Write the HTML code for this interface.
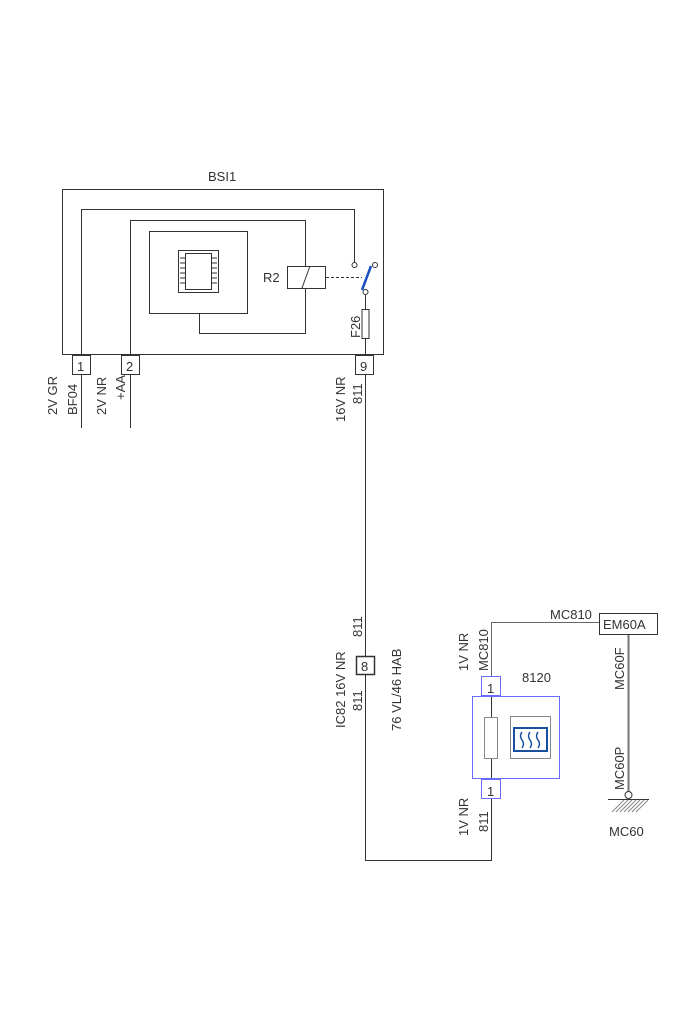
<!DOCTYPE html>
<html><head><meta charset="utf-8"><style>
html,body{margin:0;padding:0;background:#fff;}
svg{display:block;}
text{font-family:"Liberation Sans",sans-serif;fill:#333;}
</style></head><body>
<svg width="700" height="1020" viewBox="0 0 700 1020" xmlns="http://www.w3.org/2000/svg">
<g fill="none" stroke="#333" stroke-width="1">
<rect x="62.5" y="189.5" width="321" height="165"/>
<polyline points="81.5,355 81.5,209.5 354.5,209.5 354.5,262"/>
<polyline points="130.5,355 130.5,220.5 305.5,220.5 305.5,266"/>
<polyline points="305.5,288 305.5,333.5 199.5,333.5 199.5,313"/>
<rect x="149.5" y="231.5" width="98" height="82"/>
<rect x="178.5" y="250.5" width="40" height="42"/>
<rect x="185.5" y="253.5" width="26" height="36"/>
<path d="M180 258h5M180 263h5M180 268h5M180 273h5M180 278h5M180 283h5M212 258h5M212 263h5M212 268h5M212 273h5M212 278h5M212 283h5"/>
<rect x="287.5" y="266.5" width="38" height="22"/>
<line x1="302" y1="288" x2="310" y2="266"/>
<line x1="326" y1="277.5" x2="362" y2="277.5" stroke-dasharray="3,2"/>
<circle cx="354.5" cy="265" r="2.5"/>
<circle cx="375" cy="265" r="2.5"/>
<circle cx="365.5" cy="292" r="2.5"/>
<line x1="365.5" y1="294.5" x2="365.5" y2="309"/>
<rect x="362" y="309.5" width="7" height="29"/>
<line x1="365.5" y1="338.5" x2="365.5" y2="355"/>
<rect x="72.5" y="355.5" width="18" height="19"/>
<rect x="121.5" y="355.5" width="18" height="19"/>
<rect x="355.5" y="355.5" width="18" height="19"/>
<line x1="81.5" y1="374" x2="81.5" y2="428"/>
<line x1="130.5" y1="374" x2="130.5" y2="428"/>
<polyline points="365.5,374 365.5,656"/>
<rect x="356.5" y="656.5" width="18" height="18" stroke-width="1.5"/>
<polyline points="365.5,675 365.5,860.5 491.5,860.5 491.5,799"/>
<polyline points="491.5,676 491.5,622.5 599,622.5" stroke="#666"/>
<rect x="599.5" y="613.5" width="58" height="21"/>
<line x1="628.5" y1="635" x2="628.5" y2="792" stroke="#777" stroke-width="2"/>
<circle cx="628.5" cy="795" r="3.5"/>
<line x1="608" y1="799.5" x2="649" y2="799.5"/>
<path d="M612 812l12-12M616 812l12-12M620 812l12-12M624 812l12-12M628 812l12-12M632 812l12-12M636 812l12-12" stroke="#888"/>
<line x1="491.5" y1="696" x2="491.5" y2="779"/>
</g>
<line x1="362" y1="290" x2="371" y2="266" stroke="#1a4fc0" stroke-width="2.5"/>
<g fill="none" stroke="#6a6aff" stroke-width="1">
<rect x="472.5" y="696.5" width="87" height="82"/>
<rect x="481.5" y="676.5" width="19" height="19"/>
<rect x="481.5" y="779.5" width="19" height="19"/>
</g>
<rect x="484.5" y="717.5" width="13" height="41" fill="#fff" stroke="#888"/>
<rect x="510.5" y="716.5" width="40" height="42" fill="#fff" stroke="#888"/>
<rect x="514" y="728" width="33" height="23" fill="none" stroke="#1a4fa0" stroke-width="2"/>
<path d="M522 732q-3 4 0 8t0 8M530 732q-3 4 0 8t0 8M538 732q-3 4 0 8t0 8" fill="none" stroke="#1a4fa0" stroke-width="1.5"/>
<g font-size="13">
<text x="208" y="181">BSI1</text>
<text x="263" y="282">R2</text>
<text x="77" y="371">1</text>
<text x="126" y="371">2</text>
<text x="360" y="371">9</text>
<text x="361" y="671">8</text>
<text x="487" y="693">1</text>
<text x="487" y="796">1</text>
<text x="522" y="682">8120</text>
<text x="550" y="619">MC810</text>
<text x="603" y="629">EM60A</text>
<text x="609" y="836">MC60</text>
</g>
<g font-size="13">
<text transform="translate(57,415) rotate(-90)">2V  GR</text>
<text transform="translate(77,415) rotate(-90)">BF04</text>
<text transform="translate(106,415) rotate(-90)">2V  NR</text>
<text transform="translate(125,400) rotate(-90)">+AA</text>
<text transform="translate(345,422) rotate(-90)">16V  NR</text>
<text transform="translate(362,404) rotate(-90)">811</text>
<text transform="translate(345,728) rotate(-90)">IC82  16V  NR</text>
<text transform="translate(362,637) rotate(-90)">811</text>
<text transform="translate(362,711) rotate(-90)">811</text>
<text transform="translate(401,731) rotate(-90)">76  VL/46  HAB</text>
<text transform="translate(468,671) rotate(-90)">1V  NR</text>
<text transform="translate(488,671) rotate(-90)">MC810</text>
<text transform="translate(468,836) rotate(-90)">1V  NR</text>
<text transform="translate(488,832) rotate(-90)">811</text>
<text transform="translate(624,690) rotate(-90)">MC60F</text>
<text transform="translate(624,790) rotate(-90)">MC60P</text>
<text transform="translate(360,338) rotate(-90)">F26</text>
</g>
</svg>
</body></html>
